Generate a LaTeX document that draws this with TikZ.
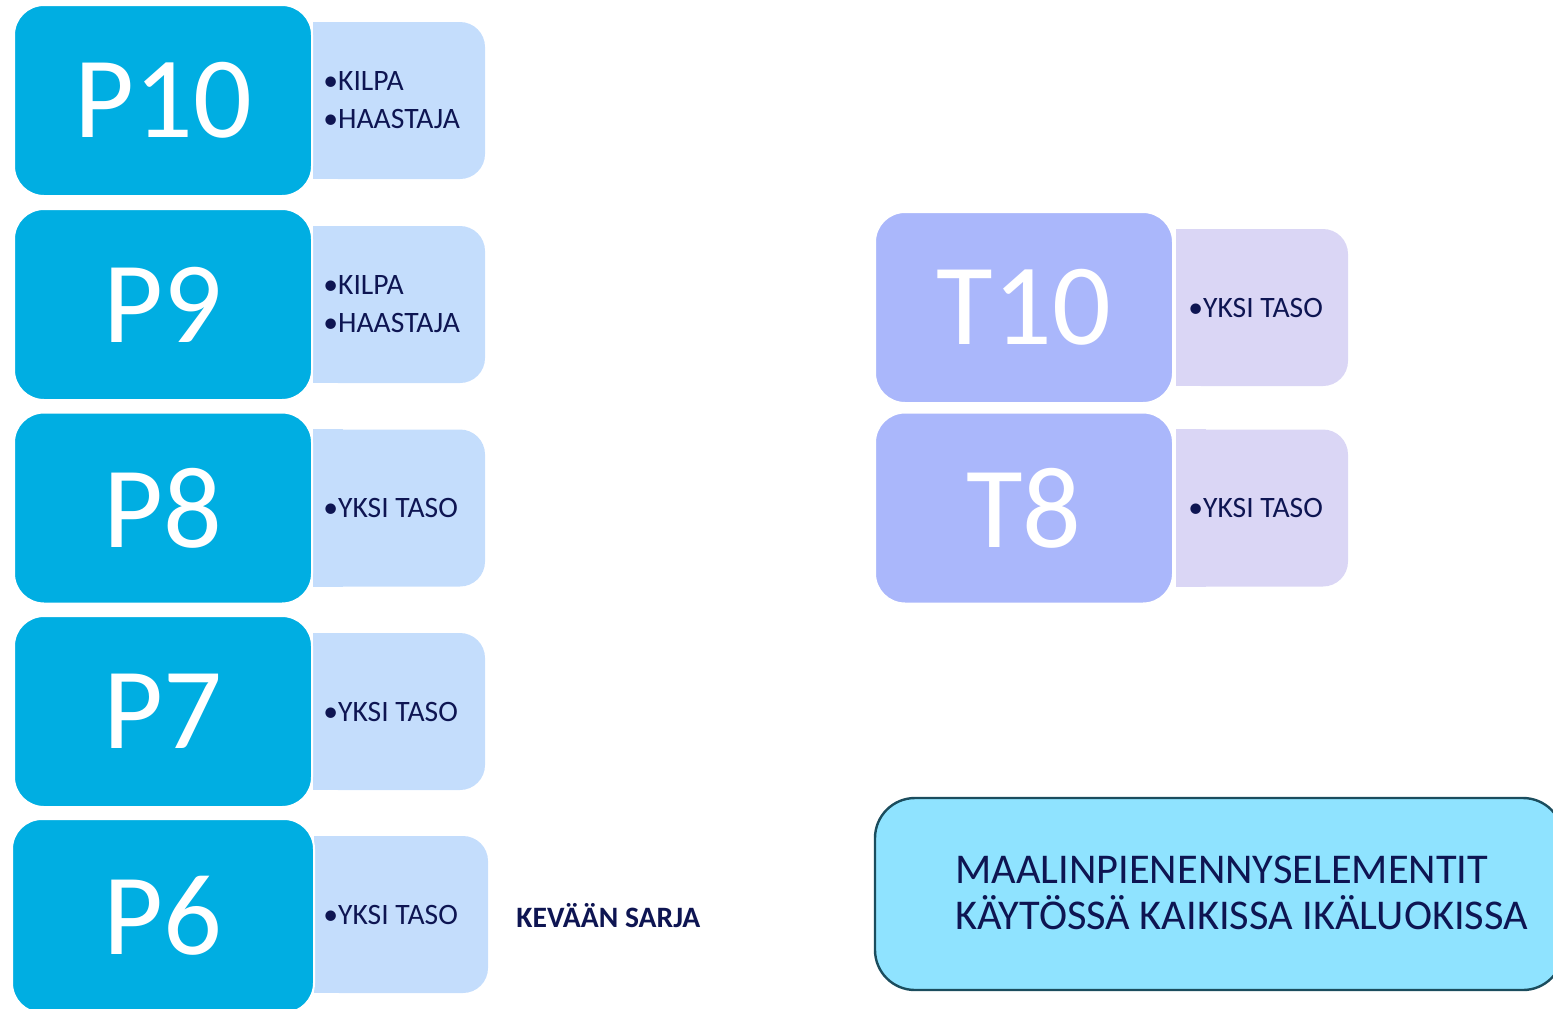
\documentclass[tikz,border=0pt]{standalone}
\usepackage{fontspec}
\setmainfont{Carlito}
\definecolor{pblue}{HTML}{00AEE2}
\definecolor{plite}{HTML}{C4DDFC}
\definecolor{tblue}{HTML}{AAB7FB}
\definecolor{tlite}{HTML}{DAD6F5}
\definecolor{goalbg}{HTML}{8FE3FF}
\definecolor{goalline}{HTML}{1B4D5E}
\definecolor{navy}{HTML}{0E1552}
\begin{document}
\begin{tikzpicture}[x=0.5pt, y=-0.5pt,
        agebox/.style={draw=white, line width=1pt, rounded corners=15pt,
            minimum width=149pt, minimum height=95.5pt, inner sep=0pt,
            text=white, font=\fontsize{58}{58}\selectfont},
        levelbox/.style={rounded corners=12.5pt, minimum width=86pt,
            minimum height=78.5pt, inner sep=0pt},
        levels/.style={anchor=west, inner sep=0pt, align=left, text=navy,
            font=\fontsize{14.8}{19}\selectfont}]
        \useasboundingbox (0,0) rectangle (1553,1008);
        % P age groups
        \foreach \name/\lbl/\yy/\items in {p10/P10/100.5/{•KILPA\\•HAASTAJA},
            p9/P9/304.5/{•KILPA\\•HAASTAJA}, p8/P8/508/{•YKSI TASO},
            p7/P7/711.5/{•YKSI TASO}}
        {
            \node[levelbox, fill=plite] (\name lvl) at (399,\yy) {};
            \fill[plite] (\name lvl.north west) rectangle ([xshift=15pt]\name lvl.south west);
            \node[agebox, fill=pblue] (\name) at (163,\yy) {\lbl};
            \node[levels] (\name txt) at (323,\yy) {\items};
        }
        \node[levelbox, fill=plite, minimum width=87pt] (p6lvl) at (401,914.5) {};
        \fill[plite] (p6lvl.north west) rectangle ([xshift=15pt]p6lvl.south west);
        \node[agebox, fill=pblue, minimum width=151pt, minimum height=97pt] (p6) at (163,916) {P6};
        \node[levels] (p6txt) at (323,914.5) {•YKSI TASO};
        \node[anchor=west, inner sep=0pt, text=navy,
            font=\bfseries\fontsize{14.8}{17}\selectfont] (spring) at (516,916) {KEVÄÄN SARJA};
        % T age groups
        \foreach \name/\lbl/\yy in {t10/T10/307.5, t8/T8/508}
        {
            \node[levelbox, fill=tlite] (\name lvl) at (1262,\yy) {};
            \fill[tlite] (\name lvl.north west) rectangle ([xshift=15pt]\name lvl.south west);
            \node[agebox, fill=tblue] (\name) at (1024,\yy) {\lbl};
            \node[levels] (\name txt) at (1188,\yy) {•YKSI TASO};
        }
        % goal note
        \node[draw=goalline, fill=goalbg, line width=1.2pt, rounded corners=20pt,
            minimum width=344pt, minimum height=96pt] (goal) at (1219,894) {};
        \node[anchor=west, inner sep=0pt, align=left, text=navy,
            font=\fontsize{21.2}{22.8}\selectfont] (goaltxt) at (955,893)
            {MAALINPIENENNYSELEMENTIT\\KÄYTÖSSÄ KAIKISSA IKÄLUOKISSA};
\end{tikzpicture}
\end{document}
